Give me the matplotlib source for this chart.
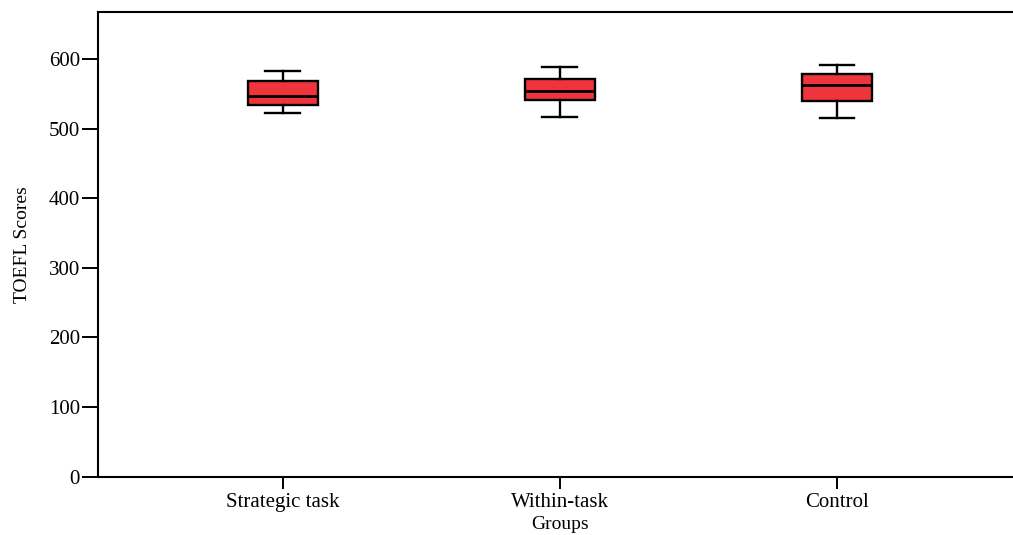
"""Box plot of TOEFL scores for the three instruction groups."""

import matplotlib
matplotlib.use("Agg")
import matplotlib.pyplot as plt

plt.rcParams["font.family"] = ["Liberation Serif", "DejaVu Serif"]

# ── Data: five-number summaries per group ───────────────────────────────────
GROUPS = ["Strategic task", "Within-task", "Control"]
WHISKER_LOW = [523, 517, 516]
Q1 = [535, 542, 539.5]
MEDIAN = [547.5, 555, 562.5]
Q3 = [569, 571.5, 579]
WHISKER_HIGH = [583, 589, 592]

Y_TICKS = [0, 100, 200, 300, 400, 500, 600]

BOX_COLOR = "#EF353B"

stats = [
    {"label": g, "whislo": lo, "q1": a, "med": m, "q3": b, "whishi": hi, "fliers": []}
    for g, lo, a, m, b, hi in zip(GROUPS, WHISKER_LOW, Q1, MEDIAN, Q3, WHISKER_HIGH)
]

fig = plt.figure(figsize=(10.13, 5.35), dpi=100)
ax = fig.add_axes([0.0967, 0.1093, 0.912, 0.868])

lw = 1.7
ax.bxp(
    stats,
    positions=range(len(GROUPS)),
    widths=0.253,
    capwidths=0.126,
    patch_artist=True,
    showfliers=False,
    boxprops=dict(facecolor=BOX_COLOR, edgecolor="black", linewidth=lw),
    medianprops=dict(color="black", linewidth=lw + 0.3),
    whiskerprops=dict(color="black", linewidth=lw),
    capprops=dict(color="black", linewidth=lw),
)

ax.set_xlim(-0.667, 2.667)
ax.set_ylim(0, 668)
ax.set_yticks(Y_TICKS)
ax.set_yticklabels([str(t) for t in Y_TICKS], fontsize=15)
ax.set_xticks(range(len(GROUPS)))
ax.set_xticklabels(GROUPS, fontsize=15)

ax.tick_params(axis="y", length=11.5, width=1.4, pad=1.5, colors="black")
ax.tick_params(axis="x", length=8.6, width=1.4, pad=3, colors="black")

for side in ("left", "top", "bottom"):
    ax.spines[side].set_linewidth(1.5)
    ax.spines[side].set_color("black")
ax.spines["right"].set_visible(False)

ax.set_ylabel("TOEFL Scores", fontsize=14)
ax.yaxis.set_label_coords(-0.072, 0.5)
ax.set_xlabel("Groups", fontsize=14)
ax.xaxis.set_label_coords(0.5, -0.085)

fig.savefig("out.png", dpi=100, facecolor="white")
plt.close(fig)
